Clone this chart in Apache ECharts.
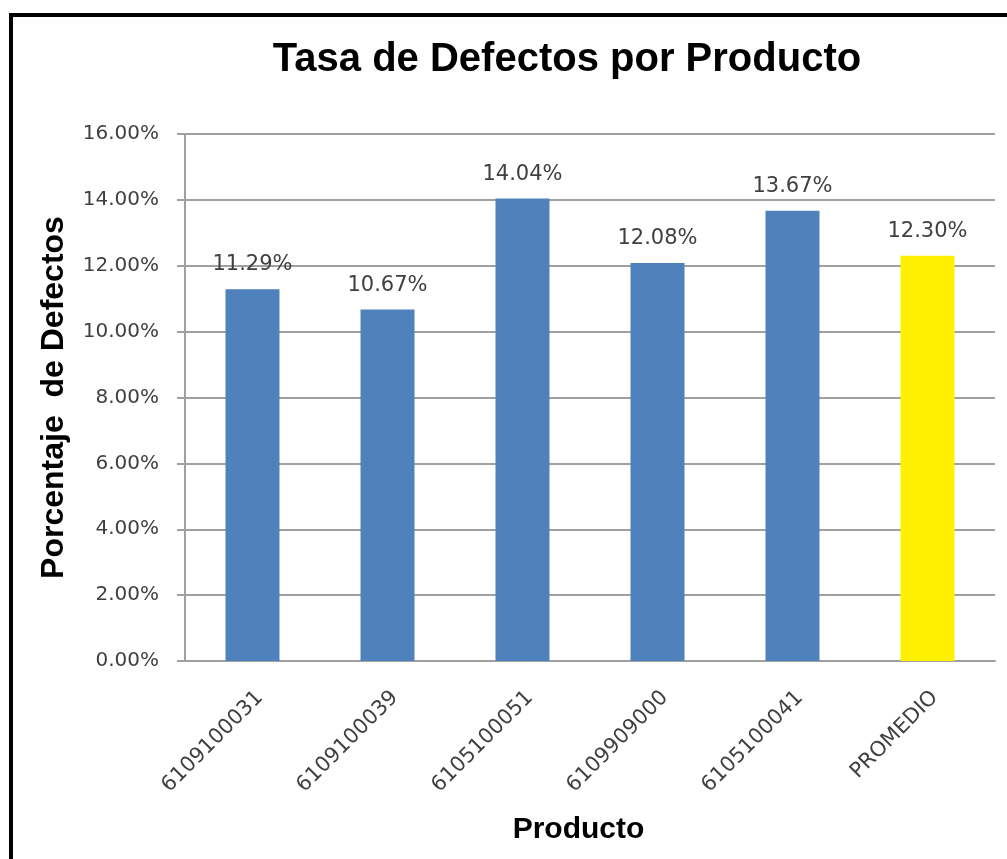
<!DOCTYPE html>
<html>
<head>
<meta charset="utf-8">
<title>Tasa de Defectos por Producto</title>
<script src="https://cdn.jsdelivr.net/npm/echarts@6/dist/echarts.min.js"></script>
<style>
  html, body { margin: 0; padding: 0; background: #ffffff; }
  #chart { width: 1007px; height: 859px; }
</style>
</head>
<body>
<div id="chart"></div>
<script>
// Product codes plus the overall average
const categories = ['6109100031', '6109100039', '6105100051', '6109909000', '6105100041', 'PROMEDIO'];
// Defect rate per product, in percent
const defectRates = [11.29, 10.67, 14.04, 12.08, 13.67, 12.30];
// Y axis scale (percent)
const yMin = 0;
const yMax = 16;
const yStep = 2;

const BLUE = '#4F81BD';
const YELLOW = '#FFF000';
const GRID = '#a0a0a0';
const TEXT = '#404040';
const NUM_FONT = '"DejaVu Sans", sans-serif';
const HEAD_FONT = '"Liberation Sans", Arial, sans-serif';

const chart = echarts.init(document.getElementById('chart'), null, { renderer: 'canvas' });

chart.setOption({
  backgroundColor: '#ffffff',
  animation: false,
  title: {
    text: 'Tasa de Defectos por Producto',
    left: 562,
    top: 35,
    textAlign: 'center',
    textStyle: { fontFamily: HEAD_FONT, fontWeight: 'bold', fontSize: 40, color: '#000000' }
  },
  graphic: [{
    type: 'rect',
    shape: { x: 11, y: 15, width: 1100, height: 1000 },
    style: { fill: 'none', stroke: '#000000', lineWidth: 4 },
    silent: true
  }],
  grid: { left: 185, right: 12, top: 134, bottom: 198, containLabel: false },
  xAxis: {
    type: 'category',
    data: categories,
    name: 'Producto',
    nameLocation: 'middle',
    nameGap: 154,
    nameTextStyle: {
      fontFamily: HEAD_FONT, fontWeight: 'bold', fontSize: 30, color: '#000000',
      padding: [0, 23, 0, 0]
    },
    axisLine: { show: true, lineStyle: { color: GRID, width: 2 } },
    axisTick: { show: false },
    axisLabel: {
      rotate: 45,
      interval: 0,
      margin: 26,
      verticalAlign: 'top',
      fontFamily: NUM_FONT,
      fontSize: 21,
      color: TEXT
    }
  },
  yAxis: {
    type: 'value',
    min: yMin,
    max: yMax,
    interval: yStep,
    name: 'Porcentaje  de Defectos',
    nameLocation: 'middle',
    nameGap: 115,
    nameTextStyle: { fontFamily: HEAD_FONT, fontWeight: 'bold', fontSize: 32, color: '#000000' },
    axisLine: { show: true, lineStyle: { color: GRID, width: 2 } },
    axisTick: { show: true, length: 8, lineStyle: { color: GRID, width: 2 } },
    splitLine: { show: true, lineStyle: { color: GRID, width: 2 } },
    axisLabel: {
      margin: 26,
      fontFamily: NUM_FONT,
      fontSize: 20,
      color: TEXT,
      formatter: v => v.toFixed(2) + '%'
    }
  },
  series: [{
    type: 'bar',
    barWidth: '40%',
    data: defectRates.map((v, i) => ({
      value: v,
      itemStyle: { color: categories[i] === 'PROMEDIO' ? YELLOW : BLUE }
    })),
    label: {
      show: true,
      position: 'top',
      distance: 14,
      fontFamily: NUM_FONT,
      fontSize: 21,
      color: TEXT,
      formatter: p => p.value.toFixed(2) + '%'
    }
  }]
});
</script>
</body>
</html>
